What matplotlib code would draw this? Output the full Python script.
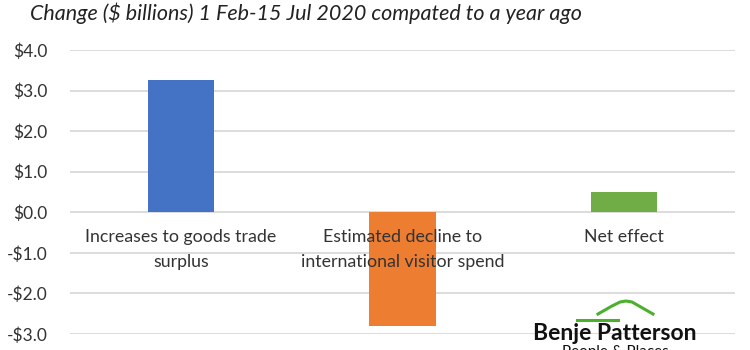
import matplotlib.pyplot as plt
import numpy as np

# data
categories = ['Increases to goods trade\nsurplus',
              'Estimated decline to\ninternational visitor spend',
              'Net effect']
values = [3.27, -2.80, 0.49]
colors = ['#4472C4', '#ED7D31', '#70AD47']
yticks = [4, 3, 2, 1, 0, -1, -2, -3]
ylabels = ['$4.0', '$3.0', '$2.0', '$1.0', '$0.0', '-$1.0', '-$2.0', '-$3.0']

plt.rcParams['font.family'] = ['Lato', 'DejaVu Sans']

fig = plt.figure(figsize=(7.5, 3.5), dpi=100)
ax = fig.add_axes([70 / 750, 1 - 334 / 350, 665 / 750, 284 / 350])

x = np.arange(len(categories))
ax.bar(x, values, width=0.3, color=colors, zorder=3)

ax.set_xlim(-0.5, 2.5)
ax.set_ylim(-3, 4)
ax.set_yticks(yticks)
ax.set_yticklabels(ylabels, fontsize=12.5, color='#333333')
ax.tick_params(axis='y', length=0, pad=16)
ax.set_xticks([])
ax.grid(axis='y', color='#d9d9d9', linewidth=1.3, zorder=0)
for s in ax.spines.values():
    s.set_visible(False)

# category labels next to the zero line
for xi, lab in zip(x, categories):
    ax.text(xi, -0.42, lab, ha='center', va='top', fontsize=12.8,
            color='#333333', linespacing=1.7, zorder=4)

fig.text(30 / 750, 1 - 13 / 350,
         'Change ($ billions) 1 Feb-15 Jul 2020 compated to a year ago',
         ha='left', va='center', fontsize=15.5, style='italic', color='#222222')

# logo
lx = np.array([598, 612, 620, 626, 632, 653])
ly = np.array([314, 306, 302, 301, 302, 314])
fig.add_artist(plt.Line2D(lx / 750, 1 - ly / 350, color='#4CB02E', linewidth=2.2))
fig.add_artist(plt.Line2D([577 / 750, 618 / 750], [1 - 320 / 350] * 2,
                          color='#4CB02E', linewidth=2.2))
fig.text(615 / 750, 1 - 333 / 350, 'Benje Patterson', ha='center', va='center',
         fontsize=16.5, fontweight='bold', color='#111111')
fig.text(615 / 750, 1 - 352 / 350, 'People & Places', ha='center', va='center',
         fontsize=11, color='#111111')

fig.savefig('out.png', dpi=100)
